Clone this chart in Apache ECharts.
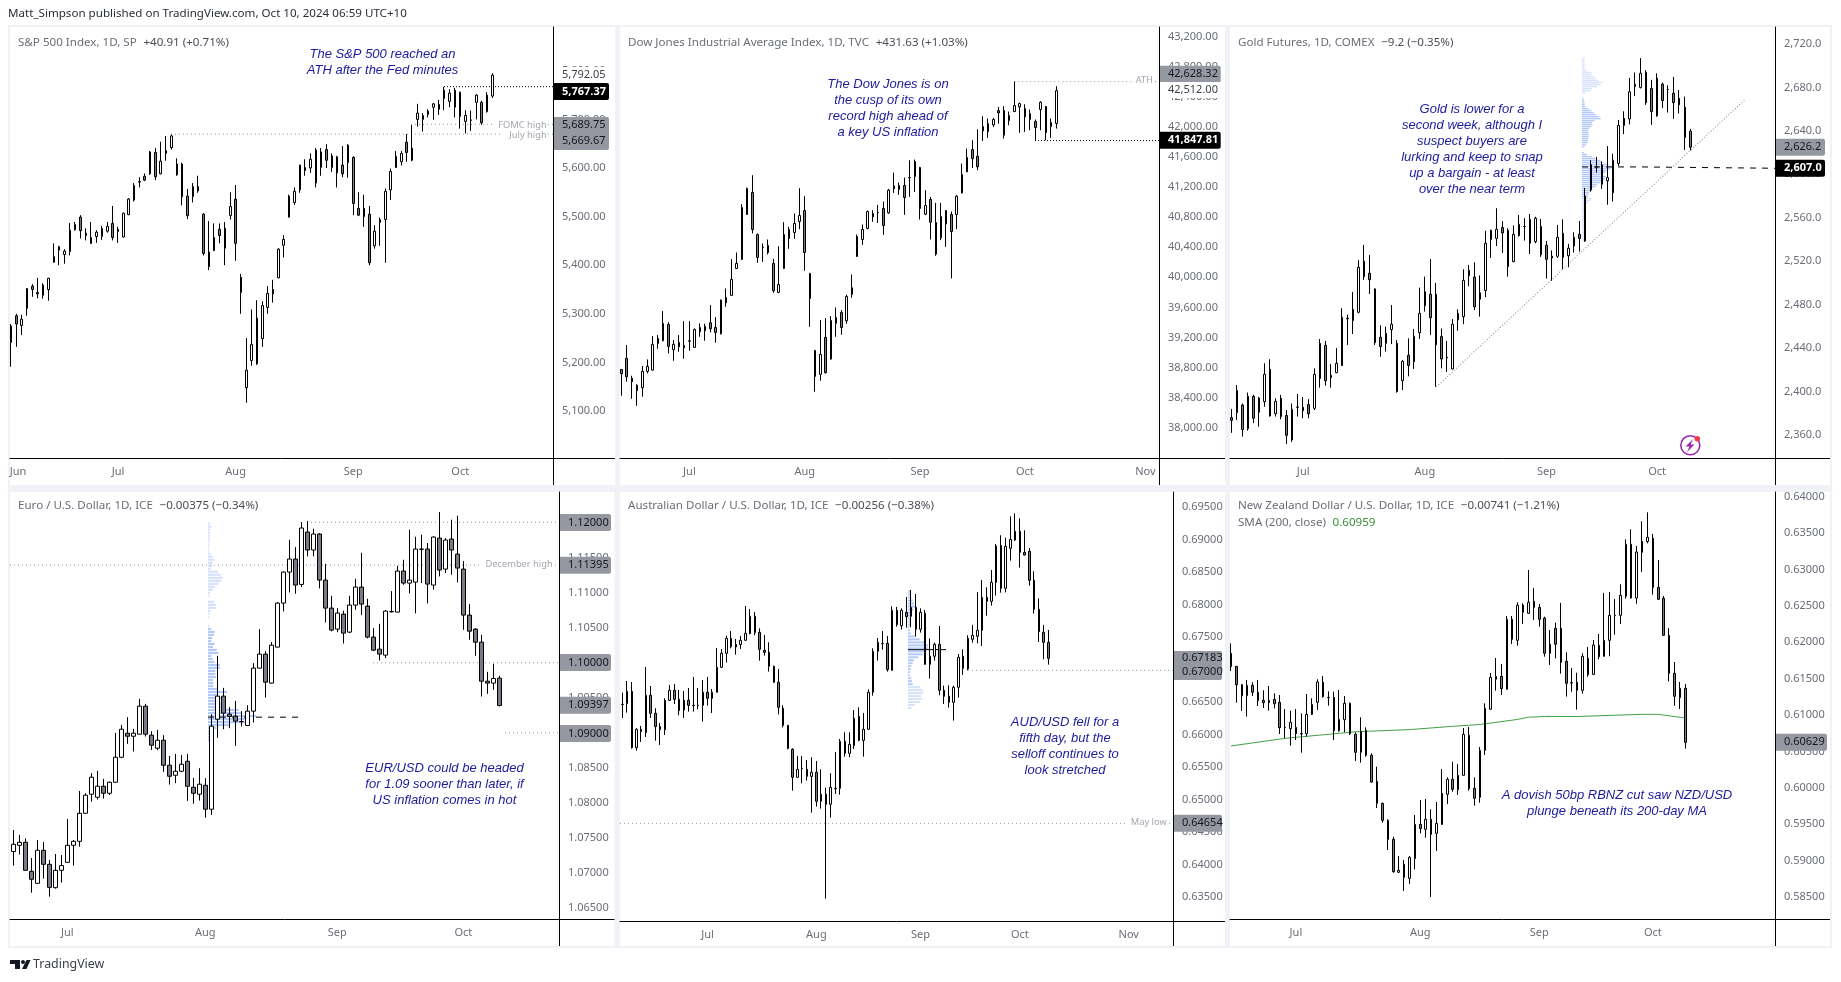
<!DOCTYPE html>
<html>
<head>
<meta charset="utf-8">
<style>html,body{margin:0;padding:0;background:#fff}#c{width:1841px;height:982px}</style>
<script src="https://cdn.jsdelivr.net/npm/echarts@6/dist/echarts.min.js"></script>
</head>
<body>
<div id="c"></div>
<script>
// Each row: [open, close, low, high]
const spx=[[5241,5275,5191,5279],[5296,5279,5232,5300],[5276,5289,5256,5298],[5311,5352,5296,5353],[5357,5350,5335,5361],[5344,5341,5332,5374],[5338,5359,5331,5363],[5350,5373,5327,5374],[5406,5418,5405,5445],[5438,5431,5400,5440],[5422,5429,5403,5433],[5428,5472,5420,5487],[5473,5484,5471,5489],[5499,5471,5455,5503],[5466,5461,5451,5476],[5457,5445,5444,5489],[5459,5468,5446,5472],[5459,5476,5452,5481],[5470,5480,5467,5489],[5486,5457,5451,5522],[5469,5474,5446,5479],[5458,5507,5457,5508],[5504,5536,5503,5538],[5534,5564,5531,5569],[5571,5572,5560,5581],[5583,5575,5573,5589],[5588,5633,5586,5635],[5632,5582,5575,5641],[5588,5614,5587,5654],[5636,5630,5615,5666],[5642,5666,5638,5669],[5608,5586,5584,5620],[5608,5541,5523,5611],[5542,5502,5495,5557],[5541,5562,5529,5569],[5562,5553,5549,5584],[5505,5424,5420,5507],[5427,5397,5390,5491],[5430,5457,5429,5486],[5474,5461,5445,5486],[5476,5435,5400,5489],[5502,5521,5494,5550],[5536,5445,5409,5565],[5375,5344,5300,5382],[5148,5184,5117,5250],[5204,5237,5193,5309],[5291,5197,5195,5328],[5249,5317,5232,5326],[5313,5342,5300,5357],[5350,5341,5323,5370],[5374,5433,5373,5435],[5441,5453,5416,5462],[5499,5542,5498,5545],[5529,5552,5524,5560],[5555,5606,5549,5607],[5601,5595,5584,5618],[5600,5618,5590,5630],[5637,5569,5560,5641],[5601,5633,5584,5641],[5638,5616,5600,5649],[5601,5625,5592,5630],[5623,5590,5560,5625],[5606,5588,5581,5645],[5611,5647,5580,5649],[5622,5527,5503,5624],[5517,5503,5501,5550],[5517,5500,5479,5545],[5505,5405,5400,5522],[5440,5470,5434,5482],[5488,5494,5440,5498],[5494,5552,5405,5558],[5555,5593,5534,5599],[5601,5624,5600,5635],[5613,5630,5605,5635],[5653,5632,5613,5670],[5641,5616,5614,5689],[5700,5713,5685,5732],[5700,5708,5675,5713],[5710,5717,5704,5721],[5725,5732,5699,5734],[5731,5721,5709,5740],[5760,5743,5719,5767],[5737,5754,5725,5762],[5725,5760,5704,5765],[5756,5706,5681,5757],[5696,5708,5671,5719],[5698,5699,5676,5718],[5735,5750,5700,5752],[5735,5693,5689,5738],[5716,5750,5714,5756],[5748,5791,5744,5795]];
const dow=[[38775,38718,38425,38780],[38921,38678,38611,39099],[38656,38611,38385,38691],[38492,38567,38292,38576],[38532,38749,38412,38820],[38749,38815,38722,38908],[38766,39108,38760,39218],[39187,39121,39050,39232],[39156,39387,39150,39551],[39373,39081,38988,39404],[39037,39108,38890,39165],[39076,39134,39010,39232],[39063,39094,38917,39418],[39150,39156,39023,39418],[39068,39307,39060,39320],[39276,39333,39209,39387],[39289,39347,39156,39382],[39395,39316,39267,39630],[39333,39267,39130,39471],[39249,39697,39240,39705],[39661,39732,39608,39852],[39759,39971,39755,40242],[40118,40184,40110,40330],[40237,40928,40230,40973],[40835,41181,40830,41194],[41128,40636,40583,41358],[40569,40264,40193,40583],[40397,40400,40206,40450],[40423,40330,40304,40503],[40184,39821,39794,40246],[39799,39905,39790,40414],[40118,40569,40110,40733],[40636,40516,40379,40671],[40596,40716,40512,40848],[40742,40822,40640,41185],[40888,40330,40087,41079],[40051,39719,39342,40060],[39028,38682,38478,39032],[38709,38975,38625,39431],[39201,38731,38722,39457],[38913,39426,38904,39484],[39387,39466,39209,39599],[39533,39333,39236,39564],[39422,39745,39382,39768],[39772,39861,39728,40038],[40277,40543,40270,40569],[40503,40636,40432,40702],[40649,40875,40640,40888],[40848,40804,40738,40893],[40860,40862,40724,40964],[40915,40689,40565,41008],[40857,41159,40844,41176],[41176,41216,41123,41393],[41167,41221,41097,41260],[41221,41061,40831,41327],[41325,41327,41070,41557],[41340,41540,41136,41566],[41460,40915,40769,41469],[40840,40955,40826,41159],[41035,40733,40503,41070],[40729,40308,40286,40990],[40525,40809,40494,40990],[40888,40711,40405,40892],[40835,40609,39985,40875],[40835,41079,40640,41092],[41123,41367,41114,41513],[41402,41593,41400,41712],[41699,41579,41455,41823],[41610,41469,41424,41969],[41947,42005,41814,42142],[41938,42045,41854,42111],[42027,42098,42000,42120],[42217,42186,42045,42266],[42217,41890,41845,42275],[42084,42151,42022,42204],[42204,42284,42200,42603],[42266,42310,41921,42324],[42244,42133,41934,42302],[42098,42177,41956,42231],[42071,41991,41823,42098],[42231,42328,41956,42341],[42271,41925,41823,42280],[42005,42058,41854,42111],[42045,42483,41978,42541]];
const gold=[[2376,2373.5,2362,2384],[2380.6,2401,2373.8,2406],[2387.6,2365,2358.5,2389],[2365.8,2395.6,2364,2399],[2395.6,2375.4,2371,2397],[2381,2394,2367.7,2395],[2390.7,2415.9,2386,2426],[2420.5,2377.5,2377,2429.7],[2379.6,2391,2377,2393.8],[2393.8,2377,2374.4,2397],[2378,2359.7,2351.7,2383],[2355.4,2383.6,2353.6,2389],[2385.5,2385.8,2377,2397.8],[2385.5,2382.4,2375.4,2395],[2388,2379.6,2375.4,2393],[2384.6,2415.9,2383,2421.4],[2412,2444.4,2403.6,2448.4],[2442.6,2410,2405.4,2446.6],[2412.8,2415,2403.6,2425.4],[2417.4,2426,2417,2440],[2423.9,2468.4,2423.5,2476.7],[2467,2467.5,2442.9,2470.8],[2465.3,2475.7,2453,2491.7],[2473,2514.4,2472,2521],[2520,2505.8,2502.8,2535],[2508.9,2503,2489.9,2525.8],[2494.5,2445,2442.9,2495],[2450,2441.4,2432,2461],[2444.4,2453.6,2436.8,2459.8],[2457,2462,2443.8,2479.7],[2444.4,2400,2399,2447.5],[2410,2427.8,2401.4,2429],[2433.4,2424,2414,2449],[2427.5,2450.9,2420.8,2457.6],[2454.2,2472,2448.4,2495.7],[2492,2479,2473.6,2505.8],[2489.6,2468,2452,2522],[2489.6,2443,2404.5,2500],[2450.6,2430,2421.4,2458],[2431.5,2431,2418,2446.6],[2420.8,2462,2420.5,2466.8],[2466,2472,2456,2475.7],[2469,2502.4,2462,2512.6],[2511.7,2506.7,2497,2516.6],[2505.5,2478,2475,2519],[2485,2491,2469,2507],[2493,2536.5,2487,2548],[2548.5,2540,2523,2549],[2541,2549.4,2534,2568.8],[2551,2546,2527.6,2557],[2548.5,2515,2505.8,2550.3],[2519.6,2544.8,2519,2553],[2543.6,2554,2542.7,2562.6],[2551.8,2552,2539,2559.6],[2558.6,2536.5,2526.7,2563.5],[2538,2559.6,2536.5,2561],[2552,2526,2524,2559],[2534.7,2521.8,2504,2538.7],[2524.6,2523,2502,2530],[2524.6,2542,2523,2553.4],[2545.7,2523.6,2512.6,2558.6],[2525,2532,2514.4,2536],[2534,2542,2528,2546.7],[2544.8,2541,2528.9,2557],[2538.7,2580,2537.8,2587.5],[2585.6,2609,2584,2613],[2606.5,2606.8,2601.6,2616],[2608.7,2590.9,2586.6,2612],[2594,2597,2572,2626],[2583,2613,2575,2619],[2610,2645,2607.7,2650],[2644.9,2651.6,2637,2658],[2651,2676,2646,2688.8],[2680.8,2683,2672,2693.7],[2680,2693,2679,2707],[2694,2666,2664,2696],[2679,2657.8,2645.5,2687],[2653.8,2688.5,2653,2693],[2683,2668,2661,2684.5],[2678,2678.2,2656.9,2682],[2674.7,2666,2651,2689.7],[2670,2664,2656,2677.7],[2661.8,2633.8,2622.5,2671.6],[2639.7,2625,2622,2641.8]];
const eur=[[1.07305,1.0741,1.07105,1.07614],[1.07395,1.07438,1.07262,1.07543],[1.07438,1.07038,1.07035,1.07495],[1.07024,1.0691,1.06719,1.07214],[1.06852,1.07324,1.0685,1.07471],[1.07324,1.07124,1.06919,1.07443],[1.07124,1.06795,1.06662,1.07186],[1.0679,1.07038,1.06776,1.07271],[1.07038,1.07105,1.06862,1.07257],[1.07152,1.07395,1.0715,1.07771],[1.07395,1.07452,1.07105,1.07471],[1.07452,1.07852,1.07376,1.08171],[1.07852,1.0811,1.0785,1.08138],[1.08124,1.08367,1.08019,1.08424],[1.08081,1.08238,1.08048,1.08457],[1.08238,1.08138,1.08062,1.08343],[1.08138,1.08295,1.08114,1.08305],[1.08295,1.08652,1.0829,1.09],[1.08652,1.09052,1.08638,1.09114],[1.08995,1.08952,1.08843,1.09224],[1.08952,1.08995,1.08733,1.09057],[1.08981,1.09381,1.0898,1.09486],[1.09381,1.08981,1.08948,1.09414],[1.08967,1.08824,1.08757,1.09024],[1.08781,1.08895,1.08752,1.09043],[1.08895,1.08538,1.08443,1.08967],[1.08538,1.08381,1.08262,1.08671],[1.08395,1.08452,1.08281,1.087],[1.08452,1.08552,1.08438,1.08686],[1.08595,1.08238,1.08029,1.087],[1.08224,1.08138,1.0799,1.08357],[1.08124,1.08267,1.08033,1.08495],[1.08252,1.0791,1.0779,1.08352],[1.0791,1.09095,1.07829,1.09267],[1.09195,1.09524,1.08929,1.101],[1.09524,1.09281,1.09052,1.09643],[1.09267,1.09233,1.09067,1.09367],[1.09238,1.09167,1.08814,1.09457],[1.0916,1.09162,1.0909,1.0931],[1.09105,1.0931,1.091,1.09395],[1.0931,1.09924,1.09148,1.09995],[1.09924,1.10124,1.0992,1.10481],[1.10124,1.09724,1.09505,1.10167],[1.0971,1.10252,1.09705,1.10295],[1.10224,1.10852,1.1022,1.10867],[1.10852,1.11295,1.10733,1.11305],[1.11295,1.11481,1.11005,1.11757],[1.11481,1.1111,1.10986,1.11652],[1.11119,1.11924,1.11081,1.1201],[1.11867,1.1161,1.11519,1.12024],[1.1161,1.11838,1.11519,1.11914],[1.11838,1.11181,1.11062,1.11852],[1.11181,1.10781,1.10576,1.11414],[1.10781,1.10467,1.10448,1.10957],[1.10481,1.1071,1.10438,1.10781],[1.10695,1.10424,1.10276,1.10743],[1.10438,1.10824,1.10424,1.10957],[1.10824,1.11081,1.10757,1.112],[1.11081,1.10838,1.10681,1.11571],[1.1081,1.10367,1.10348,1.10914],[1.10367,1.10181,1.10167,1.10495],[1.10195,1.10124,1.10033,1.10557],[1.1011,1.10738,1.10067,1.10752],[1.10728,1.10733,1.10719,1.11024],[1.10724,1.1131,1.1072,1.11386],[1.1131,1.11138,1.11114,1.11471],[1.11138,1.11181,1.1099,1.119],[1.11152,1.11624,1.10705,1.118],[1.1162,1.11624,1.11138,1.11829],[1.11624,1.11124,1.10848,1.1171],[1.1111,1.11795,1.11043,1.11805],[1.11781,1.11324,1.11233,1.12152],[1.11338,1.11752,1.11281,1.11781],[1.11767,1.1161,1.11257,1.12043],[1.11552,1.11352,1.11148,1.121],[1.11338,1.10681,1.10471,1.11452],[1.10681,1.10452,1.10329,1.10838],[1.10481,1.10295,1.101,1.10495],[1.10295,1.09738,1.09519,1.104],[1.09738,1.0971,1.09557,1.09871],[1.0971,1.09776,1.09614,1.09986],[1.09781,1.09391,1.09376,1.09814]];
const aud=[[.66465,.66469,.66259,.66649],[.66479,.66669,.66341,.66828],[.66669,.65802,.65787,.66813],[.65802,.66085,.65756,.661],[.66085,.66049,.6589,.66136],[.66033,.66608,.65967,.67043],[.66608,.66331,.66259,.66751],[.66331,.66126,.6591,.66408],[.66126,.66079,.65844,.66182],[.66079,.66531,.65997,.66561],[.66531,.66684,.6652,.66767],[.66684,.66546,.66474,.66782],[.66546,.66372,.663,.6669],[.66531,.66382,.66259,.66674],[.66531,.66454,.66356,.6672],[.6645,.66454,.66356,.6689],[.6645,.66454,.66392,.6672],[.66454,.66654,.66202,.66843],[.66654,.66561,.66449,.6689],[.66561,.66654,.66336,.66705],[.66654,.67038,.6665,.67336],[.67038,.67254,.6703,.6732],[.67254,.67484,.6711,.67525],[.67484,.67356,.67331,.67597],[.67351,.67392,.67233,.67474],[.67387,.67454,.6732,.6752],[.67454,.67561,.67449,.67982],[.67556,.67823,.67546,.67936],[.67823,.67572,.67531,.6789],[.67577,.67315,.67141,.67638],[.673,.67269,.67218,.67536],[.67269,.67054,.66972,.67423],[.67054,.66808,.668,.67064],[.66808,.66423,.66315,.67013],[.66408,.66146,.66115,.66454],[.66146,.65792,.65777,.66151],[.65777,.65346,.65141,.65792],[.65346,.65469,.6534,.65674],[.6548,.65485,.65254,.65674],[.65469,.65361,.65295,.65613],[.65361,.65423,.64803,.65654],[.65423,.64977,.64895,.65597],[.64977,.65085,.64864,.65469],[.65085,.64931,.63479,.65187],[.64931,.65192,.64726,.65408],[.6517,.65177,.6509,.65736],[.65177,.659,.65079,.65936],[.659,.65715,.65664,.66038],[.65715,.65854,.65654,.66038],[.65833,.66254,.65782,.66382],[.66285,.65915,.659,.66423],[.65915,.66085,.65664,.66336],[.66085,.66654,.6608,.667],[.66654,.67284,.66602,.67331],[.67284,.67423,.67141,.6749],[.674,.67402,.6731,.67597],[.67408,.67002,.66972,.6752],[.66992,.67915,.6699,.67977],[.67915,.67695,.67664,.67967],[.67679,.67915,.67618,.67946],[.67884,.67818,.67649,.6812],[.67823,.67961,.67654,.68228],[.67961,.67623,.6751,.68166],[.67623,.67884,.67572,.67946],[.67869,.67084,.6708,.6792],[.67084,.67208,.66864,.67484],[.67208,.67392,.67141,.67418],[.67392,.66684,.66608,.67674],[.66684,.66592,.66474,.66756],[.66592,.665,.66418,.66761],[.665,.66731,.66218,.66756],[.66731,.67192,.66572,.67243],[.67208,.67023,.6692,.67315],[.67013,.67484,.66992,.67531],[.67469,.67531,.67418,.6769],[.67515,.67607,.67408,.68197],[.67607,.68115,.67367,.68382],[.68115,.68054,.67833,.68269],[.68054,.68346,.67987,.68536],[.68346,.68905,.68141,.68936],[.68915,.68254,.68187,.69069],[.68254,.689,.68192,.69033],[.68869,.69007,.68679,.69361],[.68997,.69131,.68982,.69407],[.69131,.68807,.68572,.69331],[.68807,.68766,.68761,.69146],[.68823,.68377,.68295,.68874],[.68377,.67931,.67864,.68515],[.67931,.67587,.67428,.681],[.67577,.67423,.67161,.6769],[.67423,.67177,.67079,.67613]];
const nzd=[[.61665,.61848,.61605,.61985],[.61669,.61417,.6117,.61674],[.61417,.61266,.61056,.61427],[.61266,.61408,.60978,.61482],[.61408,.61312,.61262,.6145],[.61312,.61198,.61124,.61482],[.61202,.6117,.61097,.6134],[.6117,.61202,.6106,.61399],[.61216,.61156,.61092,.61298],[.61175,.60827,.6074,.61275],[.60827,.60831,.6068,.61083],[.60813,.609,.60579,.6106],[.60831,.60744,.60657,.61083],[.6074,.60744,.60483,.61024],[.60744,.6101,.60703,.61289],[.6101,.61147,.61,.6123],[.61175,.61454,.61069,.61491],[.6145,.61253,.61239,.61537],[.6124,.61243,.61129,.61326],[.61243,.60785,.60657,.61321],[.60785,.60941,.6077,.61344],[.60936,.61161,.60763,.61262],[.61161,.60744,.60726,.6117],[.60735,.60488,.60369,.60763],[.60488,.60776,.60346,.60969],[.6079,.60447,.60428,.60831],[.60447,.6008,.6007,.60474],[.60089,.59787,.59723,.60291],[.59787,.59553,.59521,.59796],[.59553,.59292,.59146,.59567],[.59292,.58848,.58834,.59329],[.58839,.58866,.58834,.59063],[.58949,.5877,.58582,.59008],[.58756,.59045,.58679,.59063],[.59027,.59498,.5888,.59627],[.59498,.59439,.59375,.59833],[.5943,.59567,.59315,.59847],[.59567,.59361,.585,.59705],[.59375,.59512,.59132,.59805],[.59498,.59924,.59489,.60259],[.59911,.60117,.59778,.60144],[.60117,.59979,.59947,.60359],[.59975,.60172,.59901,.60327],[.60172,.60735,.6017,.60822],[.60721,.59989,.59961,.60836],[.59993,.59856,.59755,.60144],[.59869,.60515,.59796,.60561],[.60515,.61092,.60451,.61161],[.61079,.61518,.61074,.61578],[.61491,.61532,.61335,.61784],[.61532,.61363,.61275,.61701],[.61353,.62315,.6135,.62361],[.62315,.6204,.61976,.62361],[.62027,.62508,.61953,.62549],[.62512,.62411,.62251,.62535],[.62398,.62549,.62388,.62993],[.62562,.6248,.62306,.62746],[.6248,.62315,.62214,.62526],[.62333,.61848,.61802,.62352],[.61848,.61972,.61688,.62169],[.62191,.61972,.61779,.62269],[.62191,.61724,.61569,.6254],[.61738,.61436,.61253,.61862],[.6144,.61445,.61321,.61646],[.6145,.6134,.61074,.61582],[.6134,.61807,.61294,.61848],[.61779,.61555,.61527,.61935],[.61559,.61962,.61555,.62031],[.61958,.61802,.61766,.62114],[.61807,.62027,.61802,.62677],[.62027,.6237,.61807,.62691],[.62365,.6237,.62104,.62595],[.6237,.62645,.62251,.62796],[.62631,.63346,.62599,.63414],[.63346,.62608,.62599,.63552],[.62608,.6324,.6253,.63323],[.63236,.63387,.62966,.63662],[.63382,.63442,.63359,.63785],[.63428,.62755,.62654,.63488],[.62755,.6259,.62581,.6313],[.62604,.62095,.6209,.62636],[.62095,.61573,.61463,.62196],[.61573,.61257,.61129,.61729],[.61239,.61367,.61083,.61454],[.61367,.60625,.60538,.61427]];
// 200-day SMA read at a few candle indices
const smaIdx=[0,10,23,33,41,46,53,55,58,64,76,79,84];
const smaVal=[.60575,.6068,.6077,.608,.60845,.6087,.6094,.6097,.6098,.6098,.6101,.6101,.60959];
// Tick labels
const spxTicks=[5100,5200,5300,5400,5500,5600,5700,5800];
const dowTicks=[38000,38400,38800,39200,39600,40000,40400,40800,41200,41600,42000,42400,42800,43200];
const goldTicks=[2360,2400,2440,2480,2520,2560,2600,2640,2680,2720];
const eurTicks=[1.065,1.07,1.075,1.08,1.085,1.09,1.095,1.1,1.105,1.11,1.115,1.12];
const audTicks=[.635,.64,.645,.65,.655,.66,.665,.67,.675,.68,.685,.69,.695];
const nzdTicks=[.585,.59,.595,.6,.605,.61,.615,.62,.625,.63,.635,.64];
// Volume profile rows (top row first)
const goldVols=[8,8,8,8,8,8,14,28,30,35,42,50,62,55,45,30,25,10,0,0,4,6,8,8,10,20,28,35,42,52,56,38,30,32,28,22,18,20,20,20,18,18,16,12,8,0,0,6,15,30,40,55,62,80,90,85,75,70,60,72,70,65,55,45,40,30,25,22,20,18,28,25,18,12,10,10,12,8,6,10,8,8,8,8,8,6,6,6,6,6,6,4];
const eurVols=[6,10,6,6,4,6,4,4,3,3,8,14,20,14,12,8,30,38,44,40,32,20,14,6,3,0,18,24,24,6,4,3,0,0,2,10,20,18,12,10,20,15,26,32,10,14,20,36,36,22,22,24,15,16,16,30,57,30,44,32,40,42,92,100,145,120,110,65,25,6,4,4,3];
const audVols=[8,8,10,14,18,22,16,12,8,8,6,6,4,5,8,20,35,48,60,60,50,44,30,18,14,10,8,6,5,10,12,14,36,44,46,40,42,36,20,10];

const SANS='"Noto Sans"', ITAL='"Liberation Sans"';
const panels=[
 {name:'S&P 500 Index, 1D, SP',chg:'+40.91 (+0.71%)',data:spx,ticks:spxTicks,dec:2,comma:true,l:10,r:615,ax:553,top:27,tl:458,bot:485,fp:11,lp:492.3,w:2,cal:[[5100,411],[5600,168]],
  months:{1.3:'Jun',20:'Jul',42:'Aug',64:'Sep',84:'Oct'},
  seg:[['black',[[444,5767.37],[553,5767.37]]],['grey',[[415,5689.75],[493,5689.75]]],['grey',[[548,5689.75],[553,5689.75]]],['grey',[[171,5669.67],[502,5669.67]]],['grey',[[548,5669.67],[553,5669.67]]]],
  tags:[['plain','5,792.05',75],['black','5,767.37',91.5],['greyblock','',117,150],['greytext','5,689.75',125],['greytext','5,669.67',141]],tagR:609,
  notes:[[382.5,[54,70],['The S&P 500 reached an','ATH after the Fed minutes']]],
  small:[['FOMC high',546.7,125],['July high',546.7,135]]},
 {name:'Dow Jones Industrial Average Index, 1D, TVC',chg:'+431.63 (+1.03%)',data:dow,ticks:dowTicks,dec:2,comma:true,l:620,r:1225,ax:1159,top:27,tl:458,bot:485,fp:621.3,lp:1056.3,w:2,cal:[[38000,427.7],[43200,36.7]],
  months:{13:'Jul',35:'Aug',57:'Sep',77:'Oct',100:'Nov'},
  seg:[['grey',[[1014.3,42603],[1131.7,42603]]],['grey',[[1155,42603],[1159,42603]]],['black',[[1035,41819],[1159,41819]]]],
  tags:[['grey','42,628.32',74.3],['plain','42,512.00',90],['black','41,847.81',140.3]],tagR:1220.7,
  notes:[[888,[84,100.3,116.3,132.3],['The Dow Jones is on','the cusp of its own','record high ahead of','a key US inflation']]],
  small:[['ATH',1153,80.7]]},
 {name:'Gold Futures, 1D, COMEX',chg:'\u22129.2 (\u22120.35%)',data:gold,ticks:goldTicks,dec:1,comma:true,l:1230,r:1830,ax:1775,top:27,tl:458,bot:485,fp:1231.3,lp:1690.3,w:2,cal:[[2360,435],[2720,44]],
  months:{13:'Jul',35:'Aug',57:'Sep',77:'Oct'},
  seg:[['trend',[[1436.3,2404.2],[1744.3,2668.2]]],['dash',[[1582,2606.8],[1641.7,2606.8],[1643,2605.6],[1775,2605.6]]]],
  tags:[['grey','2,626.2',147.3],['black','2,607.0',168.3]],tagR:1825,
  notes:[[1472,[109.3,125.3,141.3,157.3,173.3,189.3],['Gold is lower for a','second week, although I','suspect buyers are','lurking and keep to snap','up a bargain - at least','over the near term']]],small:[],
  vp:{x:1582,vols:goldVols,start:2706.6,step:-1.842,h:1.4,cls:i=>i<19?'l':(i<70?'m':'l')}},
 {name:'Euro / U.S. Dollar, 1D, ICE',chg:'\u22120.00375 (\u22120.34%)',data:eur,ticks:eurTicks,dec:5,l:10,r:614.5,ax:559,top:492,tl:919,bot:946,fp:13.3,lp:499.3,w:4,cal:[[1.065,908],[1.12,522.7]],
  months:{9:'Jul',32:'Aug',54:'Sep',75:'Oct'},
  seg:[['grey',[[307,1.12005],[558,1.12005]]],['grey',[[10,1.11395],[481.7,1.11395]]],['grey',[[555,1.11395],[559,1.11395]]],['grey',[[373,1.1],[559,1.1]]],['grey',[[505,1.09],[559,1.09]]],['dash',[[208,1.09224],[301.7,1.09224]]]],
  tags:[['grey','1.12000',522.5],['grey','1.11395',565.2],['grey','1.10000',662.5],['grey','1.09397',705.2],['grey','1.09000',733.5]],tagR:611,
  notes:[[444.5,[768,784,800],['EUR/USD could be headed','for 1.09 sooner than later, if','US inflation comes in hot']]],
  small:[['December high',552.7,564.7]],
  vp:{x:208,vols:eurVols,start:1.11986,step:-.000429,h:2.2,cls:i=>i<34?'l':'m'}},
 {name:'Australian Dollar / U.S. Dollar, 1D, ICE',chg:'\u22120.00256 (\u22120.38%)',data:aud,ticks:audTicks,dec:5,l:620,r:1225,ax:1173,top:492,tl:921,bot:946,fp:622.3,lp:1048.3,w:2,cal:[[.635,897.3],[.695,507.3]],
  months:{18:'Jul',41:'Aug',63:'Sep',84:'Oct',107:'Nov'},
  seg:[['grey',[[620,.64638],[1125,.64638]]],['grey',[[1169,.64638],[1173,.64638]]],['grey',[[968,.66992],[1173,.66992]]],['solid',[[908,.6731],[946,.6731]]]],
  tags:[['greyblock','',651,680],['greytext','0.67183',658.3],['greytext','0.67000',672.3],['grey','0.64654',823.3]],tagR:1222,
  notes:[[1065,[722.3,738.3,754.3,770.3],['AUD/USD fell for a','fifth day, but the','selloff continues to','look stretched']]],
  small:[['May low',1166.7,822.7]],
  vp:{x:908,vols:audVols,start:.68202,step:-.000459,h:2,cls:i=>i<32?'m':'l'}},
 {name:'New Zealand Dollar / U.S. Dollar, 1D, ICE',chg:'\u22120.00741 (\u22121.21%)',data:nzd,ticks:nzdTicks,dec:5,l:1230,r:1830,ax:1775,top:492,tl:919,bot:946,fp:1231,lp:1685.3,w:2,cal:[[.585,897],[.64,496.7]],
  months:{12:'Jul',35:'Aug',57:'Sep',78:'Oct'},seg:[],
  tags:[['grey','0.60629',742.3]],tagR:1827,
  notes:[[1617,[795.3,811.3],['A dovish 50bp RBNZ cut saw NZD/USD','plunge beneath its 200-day MA']]],small:[]}
];

const grids=[],xAxes=[],yAxes=[],series=[],g=[];
const txt=(text,x,y,font,fill,align,z,extra)=>({type:'text',x,y,z:z||50,silent:true,style:Object.assign({text,font,fill,align:align||'left',verticalAlign:'middle'},extra||{})});
const vline=(x,y0,y1,c)=>({type:'line',z:5,silent:true,shape:{x1:x+.5,y1:y0,x2:x+.5,y2:y1},style:{stroke:c||'#000',lineWidth:1}});
const hline=(x0,x1,y,c)=>({type:'line',z:5,silent:true,shape:{x1:x0,y1:y+.5,x2:x1,y2:y+.5},style:{stroke:c||'#000',lineWidth:1}});

// page pieces
g.push({type:'rect',z:-20,silent:true,shape:{x:8,y:25,width:1824,height:923},style:{fill:'#f1f2f7'}});
g.push(txt('Matt_Simpson published on TradingView.com, Oct 10, 2024 06:59 UTC+10',8,14,'11.6px '+SANS,'#2a2e39'));
// TradingView mark
g.push({type:'polygon',z:50,silent:true,shape:{points:[[10,960],[20,960],[20,969],[15,969],[15,964],[10,964]]},style:{fill:'#131722'}});
g.push({type:'circle',z:50,silent:true,shape:{cx:23,cy:962,r:2},style:{fill:'#131722'}});
g.push({type:'polygon',z:50,silent:true,shape:{points:[[26.5,960],[30.5,960],[26.5,969],[22,969]]},style:{fill:'#131722'}});
g.push(txt('TradingView',33,964,'12.4px '+SANS,'#3b3f4a'));
// Flash icon on the gold panel
g.push({type:'circle',z:50,silent:true,shape:{cx:1690.3,cy:445.3,r:9.5},style:{fill:'#fff',stroke:'#9c27b0',lineWidth:1.6}});
g.push({type:'polygon',z:51,silent:true,shape:{points:[[1693,439],[1685.5,446.5],[1689.5,446.5],[1687,452],[1694.5,444.5],[1690.5,444.5]]},style:{fill:'#9c27b0'}});
g.push({type:'circle',z:52,silent:true,shape:{cx:1697.3,cy:438.7,r:2.7},style:{fill:'#f23645'}});

const segStyle={
 black:{color:'#000',type:[1,2],width:1},
 grey:{color:'#9598a1',type:[1,3],width:1},
 trend:{color:'#9598a1',type:[1,2],width:1.2},
 dash:{color:'#000',type:[6,6],width:1},
 solid:{color:'#000',type:'solid',width:1}
};

panels.forEach((p,k)=>{
  const n=p.data.length, step=(p.lp-p.fp)/(n-1);
  const toIdx=px=>(px-p.fp)/step;
  const [[v0,y0],[v1,y1]]=p.cal;
  const yVal=y=>v0+(y-y0)*(v1-v0)/(y1-y0);
  grids.push({left:p.l,top:p.top,width:p.ax-p.l,height:p.tl-p.top,containLabel:false});
  xAxes.push({gridIndex:k,type:'value',min:toIdx(p.l),max:toIdx(p.ax),splitLine:{show:false},
    axisLine:{onZero:false,lineStyle:{color:'#000',width:1}},axisTick:{show:false},
    axisLabel:{customValues:Object.keys(p.months).map(Number),formatter:v=>p.months[v]||'',margin:8,color:'#6a6d78',fontFamily:'Noto Sans',fontSize:11}});
  const fmt=v=>{let s=v.toFixed(p.dec);if(p.comma)s=s.replace(/\B(?=(\d{3})+(?!\d))(?=.*\.)/,',');return s;};
  yAxes.push({gridIndex:k,type:'value',position:'right',min:yVal(p.tl),max:yVal(p.top),scale:true,splitLine:{show:false},
    axisLine:{onZero:false,show:true,lineStyle:{color:'#000',width:1}},axisTick:{show:false},
    axisLabel:{customValues:p.ticks,formatter:fmt,margin:9,padding:[2,0,0,0],color:'#6a6d78',fontFamily:'Noto Sans',fontSize:11}});
  series.push({type:'candlestick',xAxisIndex:k,yAxisIndex:k,z:3,barWidth:p.w,silent:true,animation:false,
    data:p.data.map((r,i)=>[i,r[0],r[1],r[2],r[3]]),
    itemStyle:{color:'#ffffff',color0:'#787b86',borderColor:'#000',borderColor0:'#000',borderWidth:1}});
  p.seg.forEach(([kind,pts])=>{
    series.push({type:'line',xAxisIndex:k,yAxisIndex:k,z:2,silent:true,animation:false,showSymbol:false,symbol:'none',
      data:pts.map(([px,v])=>[toIdx(px),v]),lineStyle:segStyle[kind]});
  });
  if(p.vp){
    const vp=p.vp, x=toIdx(vp.x);
    series.push({type:'custom',xAxisIndex:k,yAxisIndex:k,z:1,silent:true,animation:false,
      data:vp.vols.map((vol,i)=>[x,vp.start+vp.step*i,vol,i]),
      renderItem:(ps,api)=>{
        const c=api.coord([api.value(0),api.value(1)]);
        return {type:'rect',shape:{x:c[0],y:c[1]-vp.h/2,width:api.value(2)/3,height:vp.h},
          style:{fill:vp.cls(api.value(3))==='l'?'#d6e2fc':'#b3caf9'}};
      }});
  }
  // panel background & frame
  g.push({type:'rect',z:-10,silent:true,shape:{x:p.l,y:p.top,width:p.r-p.l,height:p.bot-p.top},style:{fill:'#fff'}});
  g.push(vline(p.ax,p.tl,p.bot));
  g.push(hline(p.ax,p.r,p.tl));
  // title
  g.push({type:'text',x:p.l+8,y:k<3?42.5:506,z:50,silent:true,style:{
    text:'{a|'+p.name+'}  {b|'+p.chg+'}',verticalAlign:'middle',align:'left',
    rich:{a:{fill:'#6a6d78',font:'11.6px '+SANS},b:{fill:'#4a4d57',font:'11.6px '+SANS}}}});
  // notes
  p.notes.forEach(([cx,ys,lines])=>lines.forEach((t,i)=>g.push(txt(t,cx,ys[i],'italic 13px '+ITAL,'#1c1a9e','center'))));
  p.small.forEach(([t,x,y])=>g.push(txt(t,x,y,'9.3px '+SANS,'#a3a6af','right')));
  // price tags
  const tagX=p.ax+1, tagW=p.tagR-tagX, tx=p.ax+9;
  p.tags.forEach(t=>{
    const [kind,label,cy,cy2]=t;
    if(kind==='greyblock'){g.push({type:'rect',z:30,silent:true,shape:{x:tagX,y:cy,width:tagW,height:cy2-cy,r:[0,2,2,0]},style:{fill:'#9598a1'}});return;}
    if(kind==='greytext'){g.push(txt(label,tx,cy,'11px '+SANS,'#131722','left',31));return;}
    if(kind==='plain'){
      g.push({type:'rect',z:30,silent:true,shape:{x:tagX,y:cy-8,width:tagW,height:16},style:{fill:'#fff'}});
      g.push(txt(label,tx,cy,'11px '+SANS,'#3b3f4a','left',31));return;}
    g.push({type:'rect',z:30,silent:true,shape:{x:tagX,y:cy-8.5,width:tagW,height:17,r:[0,2,2,0]},style:{fill:kind==='black'?'#000':'#9598a1'}});
    g.push(txt(label,tx,cy,(kind==='black'?'bold ':'')+'11px '+SANS,kind==='black'?'#fff':'#131722','left',31));
  });
});
// SMA on the NZD panel
series.push({type:'line',xAxisIndex:5,yAxisIndex:5,z:2,silent:true,animation:false,showSymbol:false,symbol:'none',smooth:false,
  data:smaIdx.map((x,i)=>[x,smaVal[i]]),lineStyle:{color:'#43a047',width:1}});
g.push({type:'text',x:1238,y:523,z:50,silent:true,style:{text:'{a|SMA (200, close)}  {b|0.60959}',verticalAlign:'middle',align:'left',
  rich:{a:{fill:'#6a6d78',font:'11.6px '+SANS},b:{fill:'#388e3c',font:'11.6px '+SANS}}}});

const chart=echarts.init(document.getElementById('c'),null,{renderer:'canvas',width:1841,height:982});
chart.setOption({animation:false,backgroundColor:'#fff',grid:grids,xAxis:xAxes,yAxis:yAxes,series,graphic:{elements:g}});
</script>
</body>
</html>
